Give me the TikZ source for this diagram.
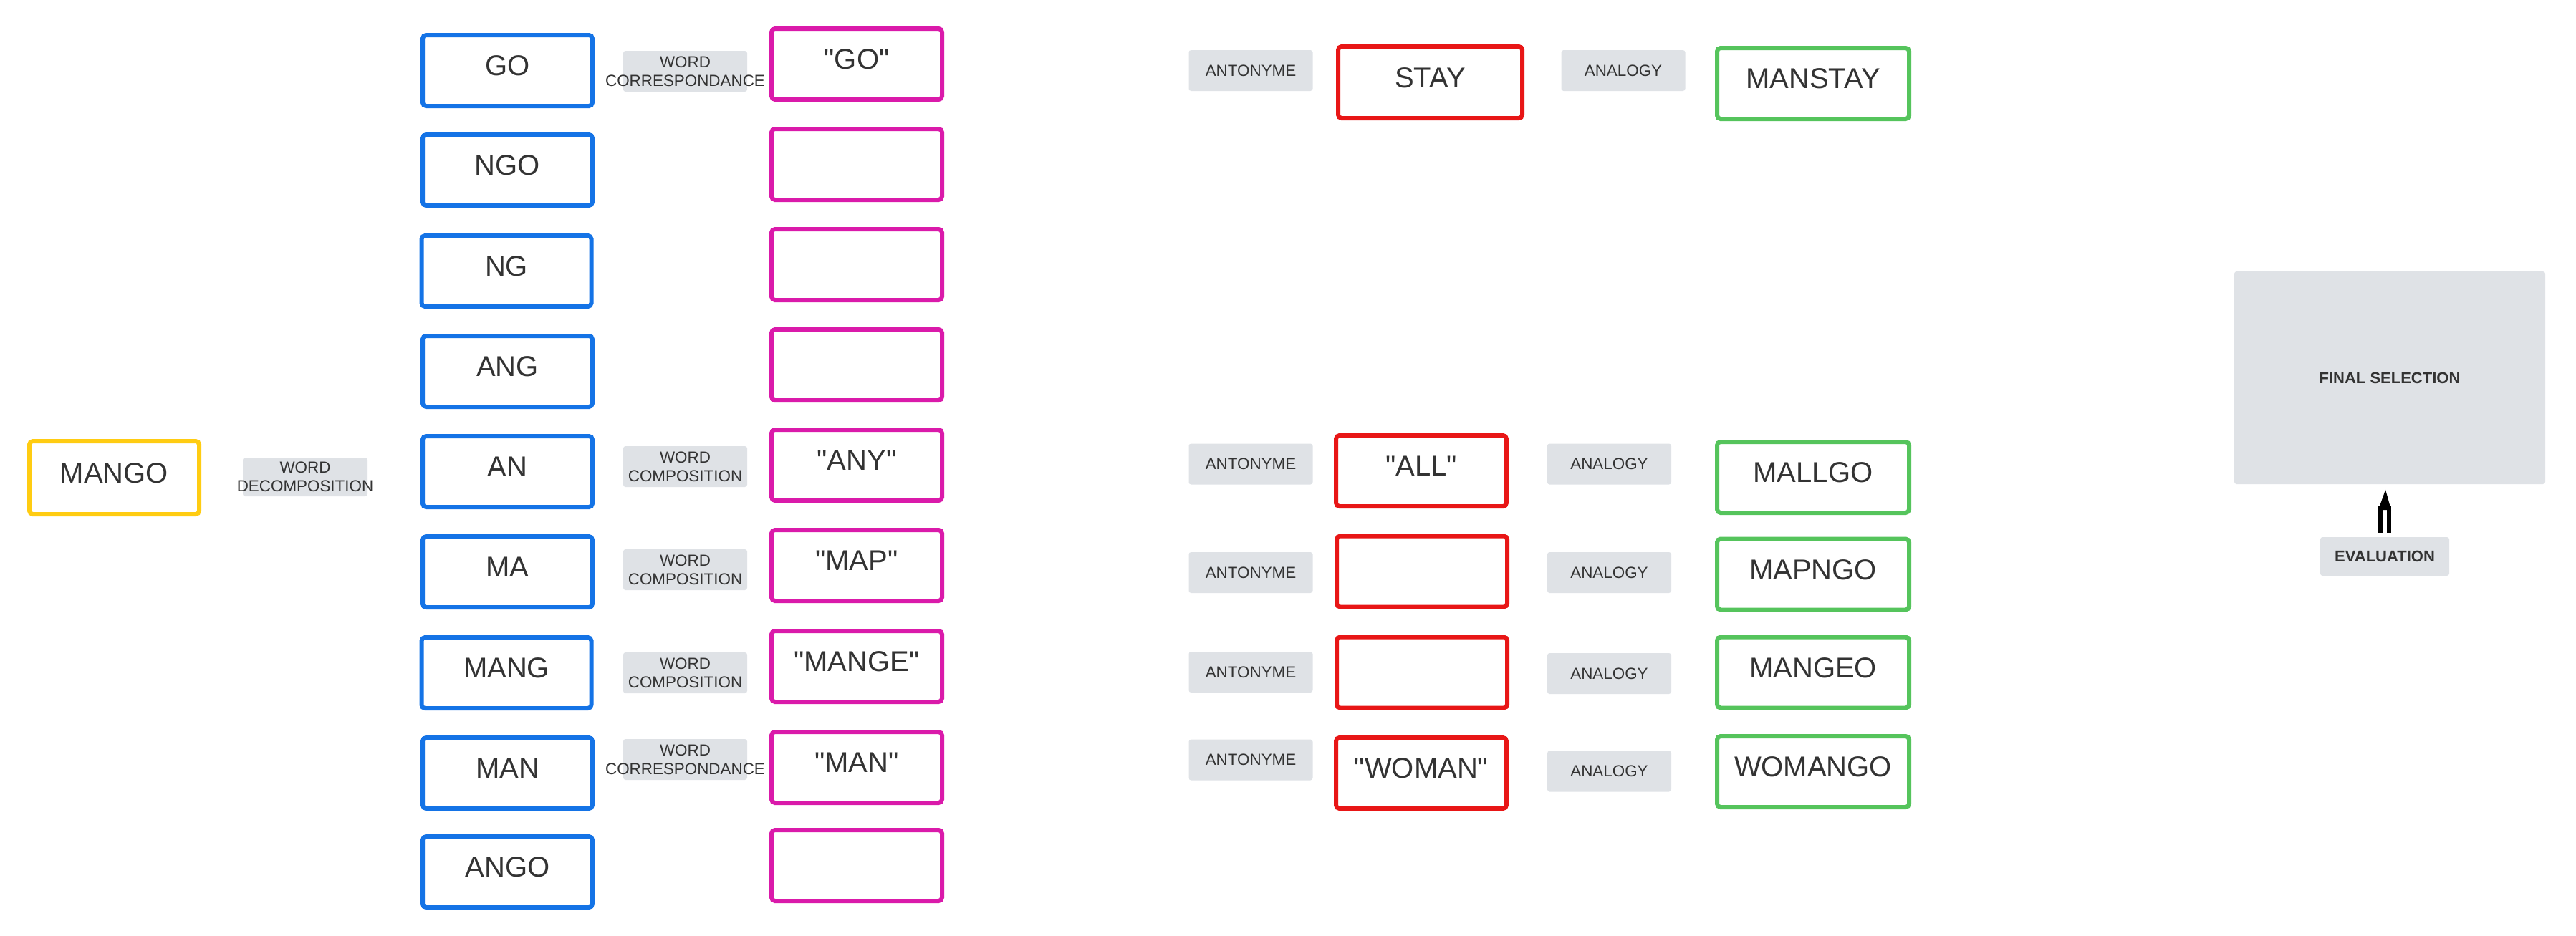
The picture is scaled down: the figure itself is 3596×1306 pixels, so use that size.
\documentclass[tikz,border=0pt]{standalone}
\usepackage{fontspec}
\setmainfont{Liberation Sans}[Ligatures=TeXOff]
\usetikzlibrary{calc}
\definecolor{cblue}{RGB}{20,115,230}
\definecolor{cpink}{RGB}{218,26,170}
\definecolor{cyellow}{RGB}{255,204,18}
\definecolor{cred}{RGB}{232,22,22}
\definecolor{cgreen}{RGB}{85,196,92}
\definecolor{cgray}{RGB}{223,226,230}
\definecolor{ctext}{RGB}{51,51,51}
\tikzset{
  bigbox/.style={draw=#1, line width=1.5pt, rounded corners=1.2pt, fill=white,
    minimum width=59.25pt, minimum height=24.75pt, inner sep=0pt,
    text=ctext, font=\fontsize{10pt}{11.5pt}\selectfont, text height=3.66pt, text depth=0pt},
  graybg/.style={fill=cgray, rounded corners=0.8pt, minimum width=43.25pt,
    minimum height=14.25pt, inner sep=0pt},
  smalltext/.style={text=ctext, font=\fontsize{5.6pt}{6.5pt}\selectfont, align=center, inner sep=0pt},
}
\begin{document}
\begin{tikzpicture}[x=0.25pt,y=-0.25pt]
\useasboundingbox (0,0) rectangle (3596,1306);

% source word
\node[bigbox=cyellow, minimum width=59.25pt, minimum height=25.5pt] (mango) at (159.5,667) {MANGO};
\node[graybg, minimum width=43.5pt, minimum height=13.5pt] (decbg) at (426,666) {};
\node[smalltext] (dect) at (decbg) {WORD\\DECOMPOSITION};

% blue column
\node[bigbox=cblue] (b1) at (708.5,98.5) {GO};
\node[bigbox=cblue] (b2) at (708.5,237.5) {NGO};
\node[bigbox=cblue] (b3) at (707,378.5) {NG};
\node[bigbox=cblue] (b4) at (708.5,518.5) {ANG};
\node[bigbox=cblue] (b5) at (708.5,658.5) {AN};
\node[bigbox=cblue] (b6) at (708.5,798.5) {MA};
\node[bigbox=cblue] (b7) at (707,939.5) {MANG};
\node[bigbox=cblue] (b8) at (708.5,1079.5) {MAN};
\node[bigbox=cblue] (b9) at (708.5,1217.5) {ANGO};

% word labels
\node[graybg] (w1) at (956.5,99.5) {};
\node[smalltext] (w1t) at (w1) {WORD\\CORRESPONDANCE};
\node[graybg] (w5) at (956.5,651.5) {};
\node[smalltext] (w5t) at (w5) {WORD\\COMPOSITION};
\node[graybg] (w6) at (956.5,795.5) {};
\node[smalltext] (w6t) at (w6) {WORD\\COMPOSITION};
\node[graybg] (w7) at (956.5,939.5) {};
\node[smalltext] (w7t) at (w7) {WORD\\COMPOSITION};
\node[graybg] (w8) at (956.5,1060.5) {};
\node[smalltext] (w8t) at (w8) {WORD\\CORRESPONDANCE};

% pink column
\node[bigbox=cpink, minimum width=59.5pt] (p1) at (1196,89.5) {"GO"};
\node[bigbox=cpink, minimum width=59.5pt] (p2) at (1196,229.5) {};
\node[bigbox=cpink, minimum width=59.5pt] (p3) at (1196,369.5) {};
\node[bigbox=cpink, minimum width=59.5pt] (p4) at (1196,509.5) {};
\node[bigbox=cpink, minimum width=59.5pt] (p5) at (1196,649.5) {"ANY"};
\node[bigbox=cpink, minimum width=59.5pt] (p6) at (1196,789.5) {"MAP"};
\node[bigbox=cpink, minimum width=59.5pt] (p7) at (1196,930.5) {"MANGE"};
\node[bigbox=cpink, minimum width=59.5pt] (p8) at (1196,1071.5) {"MAN"};
\node[bigbox=cpink, minimum width=59.5pt] (p9) at (1196,1208.5) {};

% antonyme labels
\node[graybg] (a1) at (1746,98.5) {};
\node[smalltext] (a1t) at (a1) {ANTONYME};
\node[graybg] (a2) at (1746,648) {};
\node[smalltext] (a2t) at (a2) {ANTONYME};
\node[graybg] (a3) at (1746,799.5) {};
\node[smalltext] (a3t) at (a3) {ANTONYME};
\node[graybg] (a4) at (1746,938.5) {};
\node[smalltext] (a4t) at (a4) {ANTONYME};
\node[graybg] (a5) at (1746,1061) {};
\node[smalltext] (a5t) at (a5) {ANTONYME};

% red column
\node[bigbox=cred, minimum width=64.25pt, minimum height=25pt] (r1) at (1996.5,115) {STAY};
\node[bigbox=cred, minimum width=59.5pt] (r2) at (1984,657.5) {"ALL"};
\node[bigbox=cred, minimum width=59.5pt] (r3) at (1985,798) {};
\node[bigbox=cred, minimum width=59.5pt] (r4) at (1985,939) {};
\node[bigbox=cred, minimum width=59.5pt] (r5) at (1984,1079.5) {"WOMAN"};

% analogy labels
\node[graybg] (n1) at (2266,98.5) {};
\node[smalltext] (n1t) at (n1) {ANALOGY};
\node[graybg] (n2) at (2246.5,648) {};
\node[smalltext] (n2t) at (n2) {ANALOGY};
\node[graybg] (n3) at (2246.5,799.5) {};
\node[smalltext] (n3t) at (n3) {ANALOGY};
\node[graybg] (n4) at (2246.5,940.5) {};
\node[smalltext] (n4t) at (n4) {ANALOGY};
\node[graybg] (n5) at (2246.5,1077) {};
\node[smalltext] (n5t) at (n5) {ANALOGY};

% green column
\node[bigbox=cgreen, minimum width=67pt] (g1) at (2531,116.5) {MANSTAY};
\node[bigbox=cgreen, minimum width=67pt] (g2) at (2531,666.5) {MALLGO};
\node[bigbox=cgreen, minimum width=67pt] (g3) at (2531,802) {MAPNGO};
\node[bigbox=cgreen, minimum width=67pt] (g4) at (2531,939) {MANGEO};
\node[bigbox=cgreen, minimum width=67pt] (g5) at (2531,1077.5) {WOMANGO};

% final selection
\node[graybg, minimum width=108.5pt, minimum height=74.25pt] (final) at (3336,527.5) {};
\node[smalltext, font=\fontsize{5.5pt}{6.5pt}\selectfont\bfseries] (finalt) at (final) {FINAL SELECTION};
\node[graybg, minimum width=45pt, minimum height=13.5pt] (eval) at (3329,777) {};
\node[smalltext, font=\fontsize{5.5pt}{6.5pt}\selectfont\bfseries] (evalt) at (eval) {EVALUATION};

% evaluation arrow (hollow shaft, filled head)
\coordinate (ab) at ($(eval.north)+(0,-5)$);
\coordinate (at) at ($(final.south)+(-6,7)$);
\fill[black] ($(ab)+(-9,0)$) rectangle ($(ab)+(9,-38)$);
\fill[white] ($(ab)+(-3,0.5)$) rectangle ($(ab)+(3,-32)$);
\fill[black] ($(ab)+(-9,-32)$) -- (at) -- ($(ab)+(9,-32)$) -- cycle;
\end{tikzpicture}
\end{document}
